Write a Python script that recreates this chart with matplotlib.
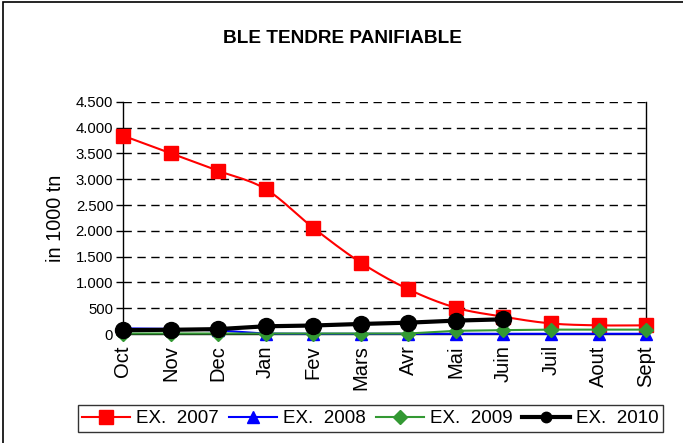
import numpy as np
import matplotlib
matplotlib.use("Agg")
import matplotlib.pyplot as plt
from matplotlib.patches import Rectangle
from matplotlib.ticker import FuncFormatter, MultipleLocator

plt.rcParams['font.family'] = ['Liberation Sans', 'DejaVu Sans']

months = ['Oct', 'Nov', 'Dec', 'Jan', 'Fev', 'Mars', 'Avr', 'Mai', 'Juin', 'Juil', 'Aout', 'Sept']
ex2007 = [3845, 3505, 3165, 2810, 2060, 1385, 868, 510, 335, 205, 168, 168]
ex2008 = [110, 100, 70, 8, 5, 5, 5, 5, 5, 5, 5, 5]
ex2009 = [10, 10, 10, 10, 10, 10, 10, 62, 75, 85, 85, 85]
ex2010 = [75, 82, 95, 150, 165, 195, 220, 260, 285]


def smooth(xs, ys, n=24):
    # catmull-rom curve through the points, like excel "smoothed line"
    xs = np.asarray(xs, float)
    ys = np.asarray(ys, float)
    px = np.concatenate([[2 * xs[0] - xs[1]], xs, [2 * xs[-1] - xs[-2]]])
    py = np.concatenate([[2 * ys[0] - ys[1]], ys, [2 * ys[-1] - ys[-2]]])
    outx, outy = [], []
    t = np.linspace(0, 1, n)
    for i in range(1, len(px) - 2):
        for p, out in ((px, outx), (py, outy)):
            p0, p1, p2, p3 = p[i - 1], p[i], p[i + 1], p[i + 2]
            out.extend(0.5 * ((2 * p1) + (-p0 + p2) * t
                              + (2 * p0 - 5 * p1 + 4 * p2 - p3) * t ** 2
                              + (-p0 + 3 * p1 - 3 * p2 + p3) * t ** 3))
    return outx, outy


fig = plt.figure(figsize=(6.83, 4.43), dpi=100)
ax = fig.add_axes([0.180, 0.246, 0.766, 0.524])

x = np.arange(len(months))

sx, sy = smooth(x, ex2007)
ax.plot(sx, sy, color='#ff0000', lw=1.5, zorder=3, clip_on=False)
ax.plot(x, ex2007, ls='none', marker='s', ms=9.5, color='#ff0000', zorder=3, clip_on=False)
ax.plot(x, ex2008, color='#0000ff', lw=1.5, marker='^', ms=8, zorder=4, clip_on=False)
ax.plot(x, ex2009, color='#339933', lw=1.5, marker='D', ms=7, zorder=5, clip_on=False)
ax.plot(x[:len(ex2010)], ex2010, color='black', lw=3, marker='o', ms=11.5, zorder=6, clip_on=False)

# legend proxies
h1, = ax.plot([], [], color='#ff0000', lw=1.5, marker='s', ms=9.5)
h2, = ax.plot([], [], color='#0000ff', lw=1.5, marker='^', ms=8.5)
h3, = ax.plot([], [], color='#339933', lw=1.5, marker='D', ms=7)
h4, = ax.plot([], [], color='black', lw=3, marker='o', ms=7.5)

ax.set_xlim(0, len(months) - 1)
ax.set_ylim(0, 4500)
ax.yaxis.set_major_locator(MultipleLocator(500))
ax.yaxis.set_major_formatter(FuncFormatter(lambda v, p: f"{v:,.0f}".replace(",", ".")))
ax.set_xticks(x)
ax.set_xticklabels(months, rotation=90, fontsize=14.5)
ax.tick_params(axis='x', length=0, pad=8)
ax.tick_params(axis='y', length=5, width=1, labelsize=10.7, pad=2)
ax.yaxis.grid(True, color='black', ls=(0, (6, 4)), lw=1)
ax.set_axisbelow(True)
ax.spines['top'].set_visible(False)
for s in ['left', 'right', 'bottom']:
    ax.spines[s].set_color('black')
    ax.spines[s].set_linewidth(1)
ax.set_ylabel('in 1000 tn', fontsize=14.3, labelpad=8)

fig.text(0.501, 0.914, 'BLE TENDRE PANIFIABLE', ha='center', va='center',
         fontsize=13.7, fontweight='bold')

leg = fig.legend([h1, h2, h3, h4], ['EX.  2007', 'EX.  2008', 'EX.  2009', 'EX.  2010'],
                 loc='center', bbox_to_anchor=(0.5425, 0.055), ncol=4, fontsize=13.5,
                 frameon=True, fancybox=False, edgecolor='black', handlelength=2.56,
                 handletextpad=0.32, columnspacing=0.53, borderpad=0.25,
                 borderaxespad=0)
leg.get_frame().set_linewidth(1)

fig.patches.append(Rectangle((0.004, -0.05), 1.2, 1.045, transform=fig.transFigure,
                             fill=False, edgecolor='black', lw=1.2))

fig.savefig('out.png', dpi=100)
